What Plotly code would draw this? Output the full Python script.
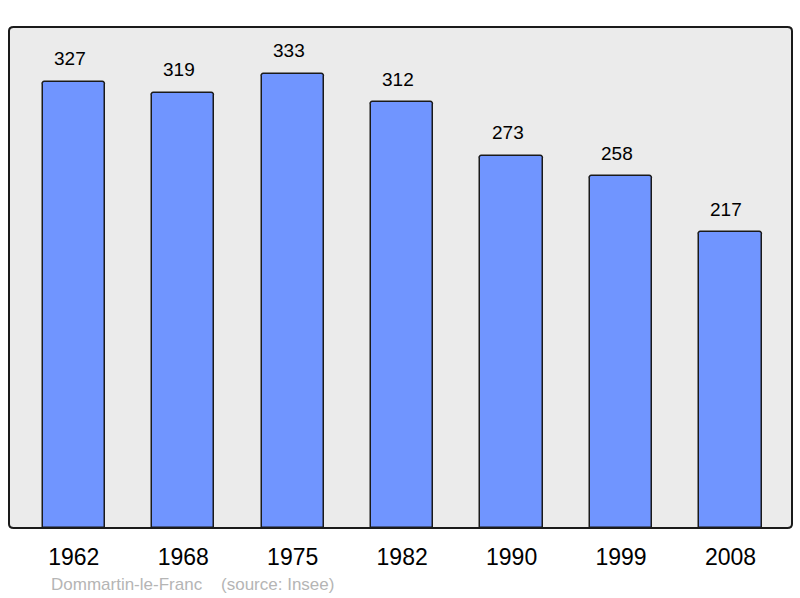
import plotly.graph_objects as go

years = ["1962", "1968", "1975", "1982", "1990", "1999", "2008"]
population = [327, 319, 333, 312, 273, 258, 217]
footer = "Dommartin-le-Franc    (source: Insee)"

xs = list(range(len(years)))

fig = go.Figure()
fig.add_trace(go.Bar(
    x=xs, y=population, width=0.57,
    marker=dict(color="#7095FF", line=dict(color="#1a1a1a", width=1.5), cornerradius=3),
    hoverinfo="skip",
))
for x, v in zip(xs, population):
    fig.add_annotation(x=x, y=v, text=str(v), showarrow=False, yshift=23, xshift=-4,
                       font=dict(family="Liberation Sans, Arial", size=19, color="#000"))

fig.add_annotation(xref="paper", yref="paper", x=0.0505, y=-0.112, xanchor="left", yanchor="middle",
                   text=footer, showarrow=False,
                   font=dict(family="Liberation Sans, Arial", size=17, color="#b5b5b5"))

fig.add_shape(type="path", xref="paper", yref="paper",
              path="M 0.006 0 L 0.994 0 Q 1 0 1 0.008 L 1 0.992 Q 1 1 0.994 1 L 0.006 1 Q 0 1 0 0.992 L 0 0.008 Q 0 0 0.006 0 Z",
              line=dict(color="#1a1a1a", width=2), layer="above")

fig.update_layout(
    width=800, height=598,
    margin=dict(l=9, r=8, t=27, b=70),
    paper_bgcolor="white", plot_bgcolor="#ebebeb",
    showlegend=False, bargap=0,
    xaxis=dict(range=[-0.592, 6.562], tickmode="array", tickvals=xs, ticktext=years,
               showgrid=False, zeroline=False, ticks="outside", ticklen=8,
               tickcolor="rgba(0,0,0,0)",
               tickfont=dict(family="Liberation Sans, Arial", size=23, color="#000")),
    yaxis=dict(range=[0, 367.3], showgrid=False, zeroline=False, showticklabels=False),
)
fig.write_html("out.html", config={"displayModeBar": False},
               post_script="document.body.style.margin='0';")
